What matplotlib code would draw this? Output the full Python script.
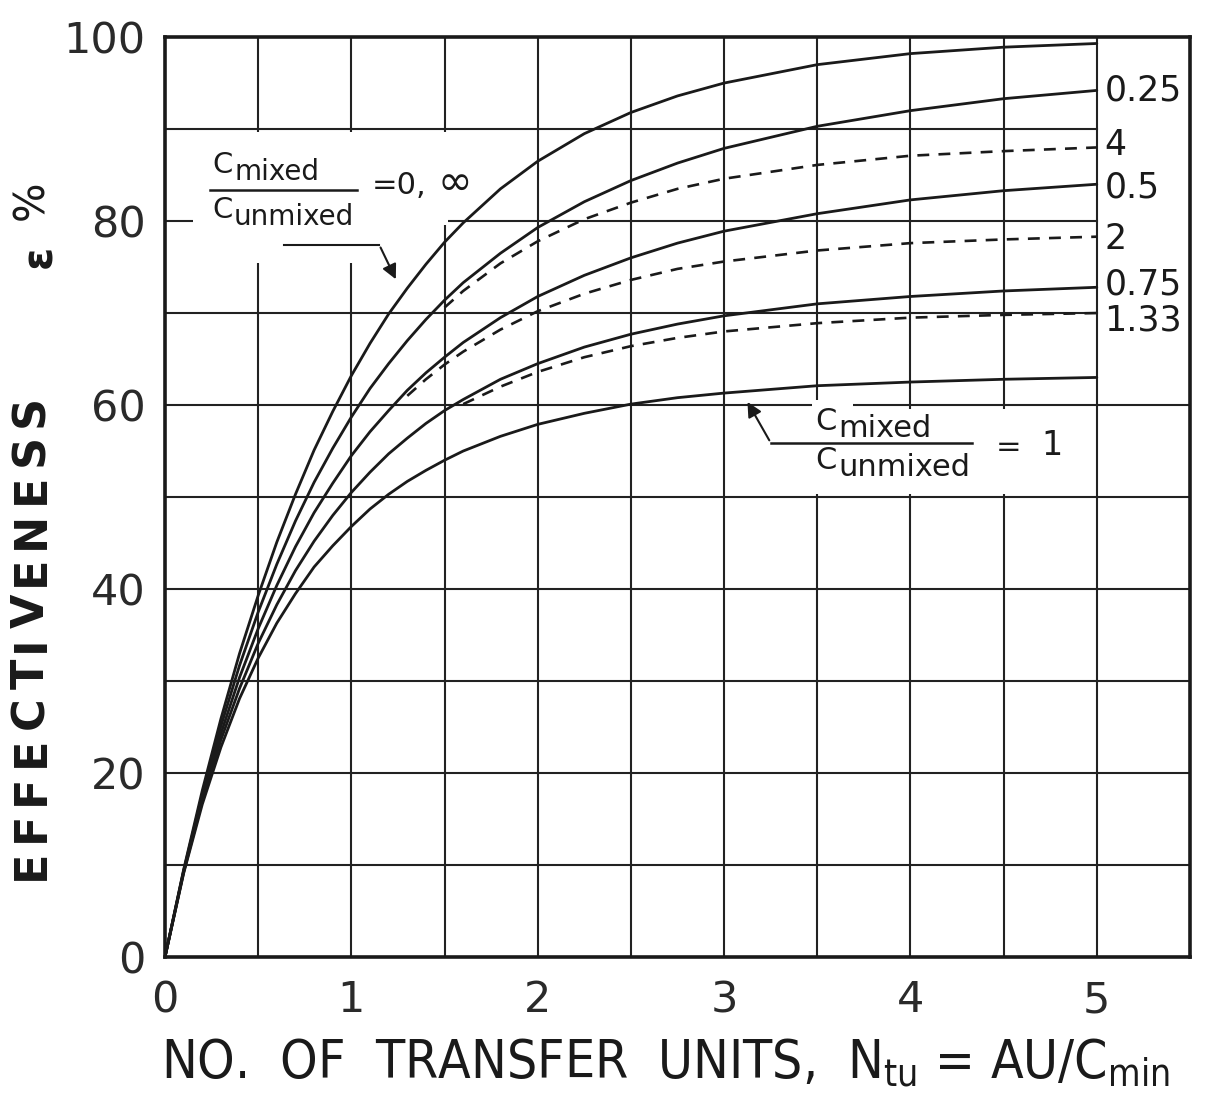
import numpy as np
import matplotlib
matplotlib.use('Agg')
import matplotlib.pyplot as plt
from matplotlib.patches import Rectangle
from matplotlib import font_manager

# values (effectiveness %, vs number of transfer units)
ntu = [0, 0.1, 0.2, 0.3, 0.4, 0.5, 0.6, 0.7, 0.8, 0.9, 1.0, 1.1, 1.2, 1.3,
       1.4, 1.5, 1.6, 1.8, 2.0, 2.25, 2.5, 2.75, 3.0, 3.5, 4.0, 4.5, 5.0]
eff_0 = [0, 9.5, 18.1, 25.9, 33.0, 39.3, 45.1, 50.3, 55.1, 59.3, 63.2, 66.7,
         69.9, 72.7, 75.3, 77.7, 79.8, 83.5, 86.5, 89.5, 91.8, 93.6, 95.0,
         97.0, 98.2, 98.9, 99.3]
eff_025 = [0, 9.4, 17.7, 25.1, 31.7, 37.5, 42.7, 47.4, 51.6, 55.3, 58.7, 61.8,
           64.5, 67.0, 69.3, 71.4, 73.3, 76.5, 79.3, 82.1, 84.4, 86.3, 87.9,
           90.3, 92.0, 93.3, 94.2]
eff_05 = [0, 9.3, 17.3, 24.3, 30.4, 35.7, 40.4, 44.6, 48.3, 51.5, 54.5, 57.1,
          59.4, 61.6, 63.5, 65.2, 66.8, 69.5, 71.8, 74.1, 76.0, 77.6, 78.9,
          80.8, 82.3, 83.3, 84.0]
eff_075 = [0, 9.2, 17.0, 23.6, 29.2, 34.1, 38.3, 42.0, 45.2, 48.0, 50.5, 52.7,
           54.7, 56.4, 58.0, 59.4, 60.6, 62.8, 64.5, 66.3, 67.7, 68.8, 69.7,
           71.0, 71.8, 72.4, 72.8]
eff_1 = [0, 9.1, 16.6, 22.8, 28.1, 32.5, 36.3, 39.5, 42.4, 44.7, 46.8, 48.7,
         50.3, 51.7, 52.9, 54.0, 55.0, 56.6, 57.9, 59.1, 60.1, 60.8, 61.3,
         62.1, 62.5, 62.8, 63.0]

# dashed curves (mixed side is Cmax) branch off the solid ones
ntu_4 = [1.5, 1.6, 1.8, 2.0, 2.25, 2.5, 2.75, 3.0, 3.5, 4.0, 4.5, 5.0]
eff_4 = [70.6, 72.4, 75.4, 77.8, 80.2, 82.0, 83.5, 84.6, 86.1, 87.1, 87.6, 88.0]
ntu_2 = [1.3, 1.4, 1.5, 1.6, 1.8, 2.0, 2.25, 2.5, 2.75, 3.0, 3.5, 4.0, 4.5, 5.0]
eff_2 = [61.0, 62.8, 64.4, 65.8, 68.2, 70.2, 72.1, 73.6, 74.8, 75.6, 76.8,
         77.6, 78.0, 78.3]
ntu_133 = [1.6, 1.8, 2.0, 2.25, 2.5, 2.75, 3.0, 3.5, 4.0, 4.5, 5.0]
eff_133 = [60.1, 62.0, 63.6, 65.2, 66.4, 67.3, 68.0, 68.9, 69.5, 69.8, 70.0]

x_ticks = [0, 1, 2, 3, 4, 5]
y_ticks = [0, 20, 40, 60, 80, 100]

INK = '#1a1a1a'
W, H = 1208, 1106

fig = plt.figure(figsize=(12.08, 11.06), dpi=100)
ax = fig.add_axes([0.1366, 0.1347, 0.8485, 0.8318])
ax.set_xlim(0, 5.5)
ax.set_ylim(0, 100)

# hand-drawn grid
for gx in np.arange(0.5, 5.5, 0.5):
    ax.axvline(gx, color='#222222', lw=1.5, zorder=1)
for gy in np.arange(10, 100, 10):
    right = 5.0 if gy >= 70 else 5.5
    ax.plot([0, right], [gy, gy], color='#222222', lw=1.5, zorder=1)

# blank spaces behind the lettering
for (x0, y0, w, h) in [(0.15, 79.6, 1.37, 10.1), (0.15, 75.4, 0.88, 4.5),
                       (3.45, 50.3, 1.38, 9.3), (3.47, 59.4, 0.22, 1.2)]:
    ax.add_patch(Rectangle((x0, y0), w, h, facecolor='white',
                           edgecolor='none', zorder=2))

for e in [eff_0, eff_025, eff_05, eff_075, eff_1]:
    ax.plot(ntu, e, color=INK, lw=2.0, zorder=3, solid_capstyle='round')
for n, e in [(ntu_4, eff_4), (ntu_2, eff_2), (ntu_133, eff_133)]:
    ax.plot(n, e, color=INK, lw=1.9, ls=(0, (4.5, 3.5)), zorder=3)

# curve labels at the right
end_labels = [('0.25', eff_025[-1], 0), ('4', eff_4[-1], 0.3),
              ('0.5', eff_05[-1], -0.3), ('2', eff_2[-1], -0.3),
              ('0.75', eff_075[-1], 0.3), ('1.33', eff_133[-1], -0.8)]
for txt, yv, dy in end_labels:
    ax.text(5.04, yv + dy, txt, fontsize=25, va='center', ha='left',
            color=INK, zorder=4)


def ratio_label(x, y_top, y_bot, csize, ssize, bar):
    # C with a big lowered subscript, numerator over denominator
    for yy, sub in [(y_top, 'mixed'), (y_bot, 'unmixed')]:
        ax.text(x, yy, 'C', fontsize=csize, va='center', ha='left',
                color=INK, zorder=4)
        ax.annotate(sub, xy=(x, yy), xytext=(csize * 0.74, -5),
                    textcoords='offset points', fontsize=ssize, va='center',
                    ha='left', color=INK, zorder=4)
    ax.plot(bar[0], bar[1], color=INK, lw=1.8, zorder=4)


# annotation: Cmixed/Cunmixed = 0, inf
ratio_label(0.255, 86.1, 81.2, 21, 20, ([0.24, 1.03], [83.4, 83.4]))
ax.text(1.11, 83.9, '=0,', va='center', ha='left', fontsize=22,
        color=INK, zorder=4)
ax.text(1.46, 84.1, '\u221e', va='center', ha='left', fontsize=30,
        color=INK, zorder=4)
ax.plot([0.64, 1.15], [77.4, 77.4], color=INK, lw=1.5, zorder=4)
ax.annotate('', xy=(1.245, 73.4), xytext=(1.15, 77.4),
            arrowprops=dict(arrowstyle='-|>', color=INK, lw=1.5,
                            mutation_scale=22), zorder=4)

# annotation: Cmixed/Cunmixed = 1
ratio_label(3.49, 58.2, 54.0, 22, 22, ([3.25, 4.33], [55.9, 55.9]))
ax.text(4.46, 55.4, '=', va='center', ha='left', fontsize=22,
        color=INK, zorder=4)
ax.text(4.70, 55.6, '1', va='center', ha='left', fontsize=24,
        color=INK, zorder=4)
ax.annotate('', xy=(3.118, 60.6), xytext=(3.25, 55.9),
            arrowprops=dict(arrowstyle='-|>', color=INK, lw=1.5,
                            mutation_scale=22), zorder=4)

ax.set_xticks(x_ticks)
ax.set_yticks(y_ticks)
ax.set_xticklabels([str(v) for v in x_ticks], fontsize=31, color='#2a2a2a')
ax.set_yticklabels([str(v) for v in y_ticks], fontsize=31, color='#2a2a2a')
ax.tick_params(length=0, pad=14)
ax.tick_params(axis='x', pad=16)
for s in ax.spines.values():
    s.set_linewidth(2.6)
    s.set_color(INK)

# y label, letters spread evenly from py 880 up to py 395
ylab = 'EFFECTIVENESS'
renderer = fig.canvas.get_renderer()
chars = []
for ch in ylab:
    t = fig.text(0, 0, ch, rotation=90, fontsize=32, fontweight='bold',
                 ha='center', va='center', color=INK)
    chars.append((t, t.get_window_extent(renderer).height))
span = 880 - 395
gap = (span - sum(h for _, h in chars)) / (len(chars) - 1)
pos = 880
for t, h in chars:
    t.set_position((31 / W, 1 - (pos - h / 2) / H))
    pos -= h + gap
fig.text(39 / W, 1 - 256 / H, '\u03b5', rotation=90, fontsize=30,
         fontweight='bold', ha='center', va='center', color=INK)
fig.text(31 / W, 1 - 200 / H, '%', rotation=90, fontsize=30,
         ha='center', va='center', color=INK)

# x label in a narrow face if one is installed
narrow = None
for f in font_manager.fontManager.ttflist:
    if f.weight in ('normal', 400, 'regular', 'book') and f.style == 'normal':
        if 'Narrow' in f.name or f.stretch in ('condensed', 'semi-condensed'):
            narrow = f.fname
            break
if narrow:
    fp = font_manager.FontProperties(fname=narrow, size=36)
else:
    fp = font_manager.FontProperties(family='DejaVu Sans', size=36)
xl = fig.text(665 / W, 1 - 1064 / H,
              r'NO.  OF  TRANSFER  UNITS,  N$_{\mathregular{tu}}$ = AU/C$_{\mathregular{min}}$',
              fontproperties=fp, ha='center', va='center', color=INK)
w = xl.get_window_extent(renderer).width
fp.set_size(36 * min(1.1, 1010 / w))
xl.set_fontproperties(fp)

fig.savefig('out.png', dpi=100, facecolor='white')
